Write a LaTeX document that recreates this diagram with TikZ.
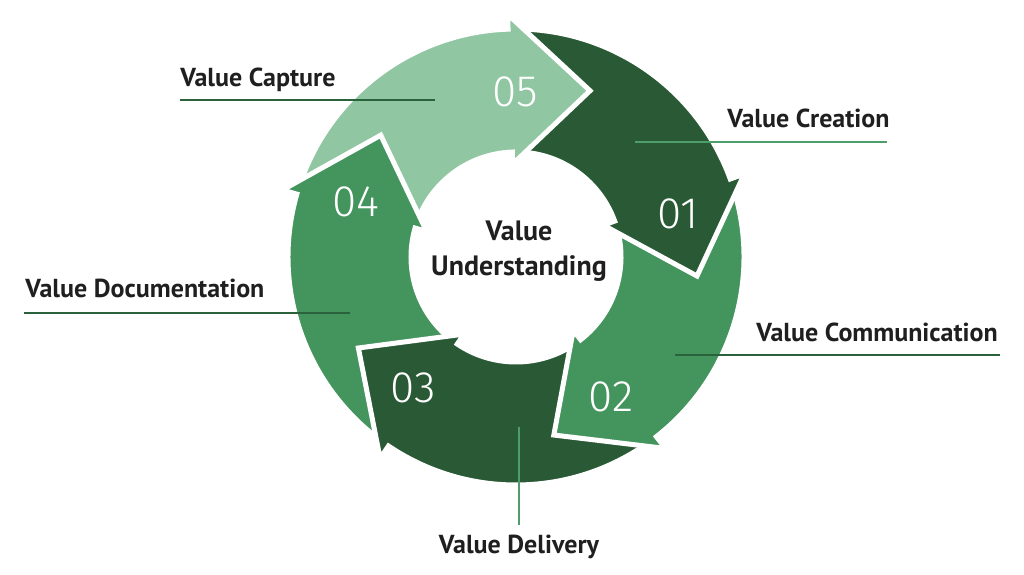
\documentclass[tikz,border=0pt]{standalone}
\usepackage{fontspec}
\setmainfont{PT Sans}
\newfontfamily\numfont{Fira Sans Light}
\usetikzlibrary{positioning}

\definecolor{LightGreen}{RGB}{144,199,162}
\definecolor{MidGreen}{RGB}{68,148,94}
\definecolor{DarkGreen}{RGB}{41,90,53}
\definecolor{LineDark}{RGB}{42,98,60}
\definecolor{LineLight}{RGB}{78,158,108}

% ring segment: colour, tail angle, head angle
\newcommand{\RingArrow}[3]{%
  \filldraw[fill=#1, draw=white, line width=2.5pt, line join=miter]
    (#2:228) arc[start angle=#2, end angle=#3, radius=228]
    -- (#3:243) -- ({#3-26}:182) -- (#3:93) -- (#3:105)
    arc[start angle=#3, end angle=#2, radius=105] -- cycle;}

\begin{document}
\begin{tikzpicture}[x=0.5pt, y=0.5pt,
  vlabel/.style={font=\bfseries\fontsize{13}{15.5}\selectfont, text=black!88, inner sep=0pt},
  vnum/.style={font=\numfont\fontsize{22}{24}\selectfont, text=white, inner sep=0pt},
  leader/.style={line width=1pt}]
  \useasboundingbox (0,0) rectangle (1024,574);

  % Ring
  \begin{scope}[shift={(516,317)}]
    \RingArrow{LightGreen}{164}{92}
    \RingArrow{MidGreen}{-124}{-196}
    \RingArrow{DarkGreen}{-52}{-124}
    \RingArrow{MidGreen}{20}{-52}
    \RingArrow{DarkGreen}{92}{20}
    \begin{scope}
      \clip (0,0) -- (38:300) arc[start angle=38, end angle=96, radius=300] -- cycle;
      \RingArrow{LightGreen}{164}{92}
    \end{scope}
  \end{scope}

  % Numbers
  \node[vnum] (n05) at (515,482) {05};
  \node[vnum] (n01) at (678,360) {01};
  \node[vnum] (n02) at (611,177) {02};
  \node[vnum] (n03) at (413,186) {03};
  \node[vnum] (n04) at (356,372) {04};

  % Centre
  \node[font=\bfseries\fontsize{14}{17.5}\selectfont, align=center, text=black!88] (Core) at (519,323) {Value\\Understanding};

  % Labels
  \node[vlabel, anchor=base west] (Capture) at (180,487) {Value Capture};
  \node[vlabel, anchor=base west] (Creation) at (727,446) {Value Creation};
  \node[vlabel, anchor=base west] (Communication) at (756,233) {Value Communication};
  \node[vlabel, anchor=base west] (Documentation) at (25,276) {Value Documentation};
  \node[vlabel, anchor=base] (Delivery) at (519,21) {Value Delivery};

  % Leaders
  \coordinate (cap-a) at (180,474);
  \coordinate (cap-b) at (435,474);
  \coordinate (cre-a) at (635,432);
  \coordinate (cre-b) at (887,432);
  \coordinate (com-a) at (675,219);
  \coordinate (com-b) at (1000,219);
  \coordinate (doc-a) at (24,261);
  \coordinate (doc-b) at (350,261);
  \coordinate (del-a) at (519,147);
  \coordinate (del-b) at (519,49);
  \draw[leader, LineDark] (cap-a) -- (cap-b);
  \draw[leader, LineLight] (cre-a) -- (cre-b);
  \draw[leader, LineDark] (com-a) -- (com-b);
  \draw[leader, LineDark] (doc-a) -- (doc-b);
  \draw[leader, LineLight] (del-a) -- (del-b);
\end{tikzpicture}
\end{document}
